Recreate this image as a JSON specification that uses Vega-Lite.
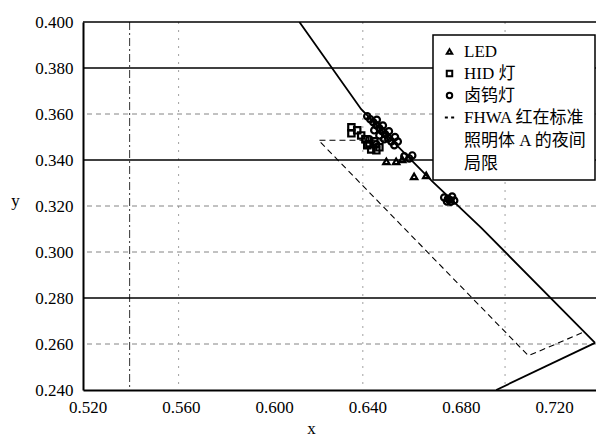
{
  "$schema": "https://vega.github.io/schema/vega-lite/v6.json",
  "width": 513,
  "height": 368,
  "autosize": {"type": "none"},
  "padding": {"left": 83, "top": 22, "right": 0, "bottom": 48},
  "background": "white",
  "config": {
    "view": {"stroke": null},
    "font": "'Liberation Serif', 'Noto Sans CJK SC'",
    "axis": {
      "labelFont": "'Liberation Serif'",
      "labelFontSize": 17,
      "labelColor": "black",
      "ticks": false,
      "grid": false,
      "domainColor": "black",
      "domainWidth": 2,
      "titleFont": "'Liberation Serif'",
      "titleFontSize": 17,
      "titleFontWeight": "normal",
      "titleColor": "black"
    },
    "legend": {
      "labelFont": "'Liberation Serif', 'Noto Sans CJK SC'",
      "labelFontSize": 17,
      "labelColor": "black",
      "labelLimit": 400,
      "strokeColor": "black",
      "strokeWidth": 1.5,
      "fillColor": "white",
      "padding": 8,
      "symbolSize": 30,
      "symbolStrokeWidth": 2,
      "symbolStrokeColor": "black",
      "rowPadding": 4,
      "labelOffset": 6
    },
    "style": {"guide-label": {"lineHeight": 23}}
  },
  "datasets": {
    "hsolid": [{"y": 0.40}, {"y": 0.38}, {"y": 0.34}, {"y": 0.28}],
    "hdash": [{"y": 0.36}, {"y": 0.32}, {"y": 0.30}, {"y": 0.26}],
    "vdash": [{"x": 0.559}, {"x": 0.638}, {"x": 0.699}],
    "vstrong": [{"x": 0.538}],
    "boundary": [
      {"seg": "locus", "ord": 1, "x": 0.6108, "y": 0.400},
      {"seg": "locus", "ord": 2, "x": 0.6373, "y": 0.3621},
      {"seg": "locus", "ord": 3, "x": 0.6678, "y": 0.3307},
      {"seg": "locus", "ord": 4, "x": 0.6887, "y": 0.3106},
      {"seg": "locus", "ord": 5, "x": 0.7376, "y": 0.2605},
      {"seg": "base", "ord": 1, "x": 0.6952, "y": 0.240},
      {"seg": "base", "ord": 2, "x": 0.7376, "y": 0.2605}
    ],
    "fhwa": [
      {"ord": 1, "x": 0.652, "y": 0.3486},
      {"ord": 2, "x": 0.619, "y": 0.3486},
      {"ord": 3, "x": 0.709, "y": 0.2549},
      {"ord": 4, "x": 0.733, "y": 0.2653}
    ],
    "points": [
      {"type": "HID 灯", "x": 0.6331, "y": 0.3542},
      {"type": "HID 灯", "x": 0.6331, "y": 0.3516},
      {"type": "HID 灯", "x": 0.6356, "y": 0.3529},
      {"type": "HID 灯", "x": 0.6373, "y": 0.3507},
      {"type": "HID 灯", "x": 0.6391, "y": 0.3490},
      {"type": "HID 灯", "x": 0.6408, "y": 0.3468},
      {"type": "HID 灯", "x": 0.6429, "y": 0.3481},
      {"type": "HID 灯", "x": 0.6451, "y": 0.3455},
      {"type": "HID 灯", "x": 0.6416, "y": 0.3446},
      {"type": "HID 灯", "x": 0.6438, "y": 0.3442},
      {"type": "HID 灯", "x": 0.6399, "y": 0.3464},
      {"type": "卤钨灯", "x": 0.6399, "y": 0.3590},
      {"type": "卤钨灯", "x": 0.6412, "y": 0.3577},
      {"type": "卤钨灯", "x": 0.6425, "y": 0.3564},
      {"type": "卤钨灯", "x": 0.6438, "y": 0.3551},
      {"type": "卤钨灯", "x": 0.6451, "y": 0.3538},
      {"type": "卤钨灯", "x": 0.6463, "y": 0.3525},
      {"type": "卤钨灯", "x": 0.6476, "y": 0.3512},
      {"type": "卤钨灯", "x": 0.6489, "y": 0.3494},
      {"type": "卤钨灯", "x": 0.6502, "y": 0.3481},
      {"type": "卤钨灯", "x": 0.6515, "y": 0.3464},
      {"type": "卤钨灯", "x": 0.6440, "y": 0.3575},
      {"type": "卤钨灯", "x": 0.6466, "y": 0.3550},
      {"type": "卤钨灯", "x": 0.6492, "y": 0.3525},
      {"type": "卤钨灯", "x": 0.6518, "y": 0.3500},
      {"type": "卤钨灯", "x": 0.6530, "y": 0.3480},
      {"type": "卤钨灯", "x": 0.6451, "y": 0.3507},
      {"type": "卤钨灯", "x": 0.6472, "y": 0.3490},
      {"type": "卤钨灯", "x": 0.6429, "y": 0.3529},
      {"type": "卤钨灯", "x": 0.6408, "y": 0.3490},
      {"type": "卤钨灯", "x": 0.6438, "y": 0.3468},
      {"type": "卤钨灯", "x": 0.6558, "y": 0.3416},
      {"type": "卤钨灯", "x": 0.6579, "y": 0.3407},
      {"type": "卤钨灯", "x": 0.6592, "y": 0.3420},
      {"type": "卤钨灯", "x": 0.6729, "y": 0.3237},
      {"type": "卤钨灯", "x": 0.6750, "y": 0.3228},
      {"type": "卤钨灯", "x": 0.6772, "y": 0.3224},
      {"type": "卤钨灯", "x": 0.6741, "y": 0.3220},
      {"type": "卤钨灯", "x": 0.6763, "y": 0.3241},
      {"type": "卤钨灯", "x": 0.6745, "y": 0.3232},
      {"type": "卤钨灯", "x": 0.6757, "y": 0.3218},
      {"type": "LED", "x": 0.6481, "y": 0.3394},
      {"type": "LED", "x": 0.6523, "y": 0.3394},
      {"type": "LED", "x": 0.6549, "y": 0.3403},
      {"type": "LED", "x": 0.6600, "y": 0.3329},
      {"type": "LED", "x": 0.6652, "y": 0.3333}
    ]
  },
  "layer": [
    {
      "data": {"name": "hdash"},
      "mark": {"type": "rule", "color": "#666", "strokeWidth": 0.8, "strokeDash": [5, 4]},
      "encoding": {
        "y": {"field": "y", "type": "quantitative", "scale": {"domain": [0.24, 0.40], "nice": false, "zero": false}}
      }
    },
    {
      "data": {"name": "vdash"},
      "mark": {"type": "rule", "color": "#888", "strokeWidth": 0.8, "strokeDash": [2, 6]},
      "encoding": {
        "x": {"field": "x", "type": "quantitative", "scale": {"domain": [0.518, 0.738], "nice": false, "zero": false}}
      }
    },
    {
      "data": {"name": "vstrong"},
      "mark": {"type": "rule", "color": "#333", "strokeWidth": 1, "strokeDash": [8, 3, 2, 3]},
      "encoding": {
        "x": {"field": "x", "type": "quantitative", "scale": {"domain": [0.518, 0.738], "nice": false, "zero": false}}
      }
    },
    {
      "data": {"name": "hsolid"},
      "mark": {"type": "rule", "color": "black", "strokeWidth": 1.3},
      "encoding": {
        "y": {"field": "y", "type": "quantitative", "scale": {"domain": [0.24, 0.40], "nice": false, "zero": false}}
      }
    },
    {
      "data": {"name": "fhwa"},
      "mark": {"type": "line", "color": "black", "strokeWidth": 1.1, "strokeDash": [6, 4], "clip": true},
      "encoding": {
        "x": {"field": "x", "type": "quantitative", "scale": {"domain": [0.518, 0.738], "nice": false, "zero": false}},
        "y": {"field": "y", "type": "quantitative", "scale": {"domain": [0.24, 0.40], "nice": false, "zero": false}},
        "order": {"field": "ord"}
      }
    },
    {
      "data": {"name": "boundary"},
      "mark": {"type": "line", "color": "black", "strokeWidth": 1.8, "clip": true},
      "encoding": {
        "x": {"field": "x", "type": "quantitative", "scale": {"domain": [0.518, 0.738], "nice": false, "zero": false}},
        "y": {"field": "y", "type": "quantitative", "scale": {"domain": [0.24, 0.40], "nice": false, "zero": false}},
        "detail": {"field": "seg"},
        "order": {"field": "ord"}
      }
    },
    {
      "data": {"name": "points"},
      "mark": {"type": "point", "filled": false, "color": "black", "opacity": 1, "strokeWidth": 2.2, "size": 40, "clip": true},
      "encoding": {
        "x": {
          "field": "x", "type": "quantitative",
          "scale": {"domain": [0.518, 0.738], "nice": false, "zero": false},
          "axis": {"values": [0.52, 0.56, 0.60, 0.64, 0.68, 0.72], "format": ".3f", "labelPadding": 9, "title": "x", "titleX": 228, "titleY": 38, "titleAlign": "center", "titleBaseline": "middle"}
        },
        "y": {
          "field": "y", "type": "quantitative",
          "scale": {"domain": [0.24, 0.40], "nice": false, "zero": false},
          "axis": {"values": [0.24, 0.26, 0.28, 0.30, 0.32, 0.34, 0.36, 0.38, 0.40], "format": ".3f", "labelPadding": 10, "title": "y", "titleAngle": 0, "titleX": -68, "titleY": 178, "titleAlign": "center", "titleBaseline": "middle"}
        },
        "shape": {
          "field": "type", "type": "nominal",
          "scale": {
            "domain": ["LED", "HID 灯", "卤钨灯", "FHWA 红在标准照明体 A 的夜间局限"],
            "range": ["triangle-up", "square", "circle", "M-1.7,0H-0.6M0.6,0H1.7"]
          },
          "legend": {
            "title": null,
            "orient": "none",
            "legendX": 350,
            "legendY": 13,
            "labelBaseline": "middle",
            "labelExpr": "datum.label == 'FHWA 红在标准照明体 A 的夜间局限' ? ['FHWA 红在标准  ', '照明体 A 的夜间', '局限'] : datum.label"
          }
        }
      }
    }
  ]
}
